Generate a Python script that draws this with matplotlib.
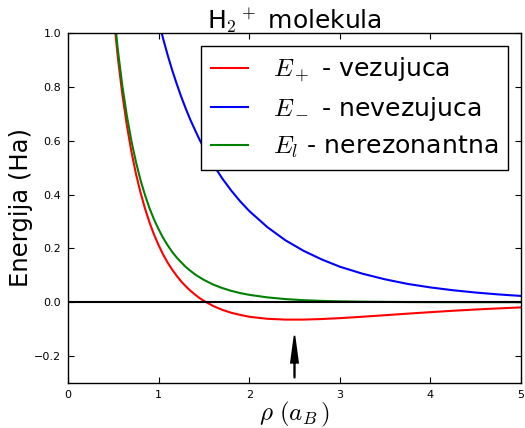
import matplotlib
matplotlib.use("Agg")
import matplotlib.pyplot as plt

# distance rho (a_B)
rho = [0.50, 0.55, 0.60, 0.65, 0.70, 0.75, 0.80, 0.85, 0.90, 0.95, 1.00, 1.05,
       1.10, 1.15, 1.20, 1.25, 1.30, 1.35, 1.40, 1.45, 1.50, 1.60, 1.70, 1.80,
       1.90, 2.00, 2.20, 2.40, 2.60, 2.80, 3.00, 3.25, 3.50, 3.75, 4.00, 4.25,
       4.50, 4.75, 5.00]
# E+ bonding
e_plus = [1.079, 0.909, 0.771, 0.656, 0.559, 0.477, 0.408, 0.348, 0.296, 0.251,
          0.212, 0.177, 0.147, 0.121, 0.098, 0.077, 0.059, 0.043, 0.029, 0.016,
          0.005, -0.0135, -0.028, -0.039, -0.047, -0.054, -0.0615, -0.0645,
          -0.0645, -0.0624, -0.0591, -0.0539, -0.0482, -0.0424, -0.0369, -0.0317,
          -0.027, -0.0229, -0.0192]
# E- antibonding
e_minus = [2.339, 2.116, 1.927, 1.765, 1.623, 1.498, 1.387, 1.288, 1.199, 1.118,
           1.045, 0.979, 0.918, 0.862, 0.811, 0.763, 0.719, 0.678, 0.641, 0.605,
           0.573, 0.513, 0.461, 0.4155, 0.375, 0.339, 0.279, 0.230, 0.191, 0.159,
           0.132, 0.106, 0.085, 0.068, 0.055, 0.0445, 0.036, 0.029, 0.0234]
# E_l non-resonant
e_l = [1.104, 0.938, 0.803, 0.692, 0.599, 0.521, 0.454, 0.398, 0.349, 0.307,
       0.271, 0.239, 0.2115, 0.187, 0.166, 0.148, 0.131, 0.117, 0.104, 0.093,
       0.083, 0.066, 0.053, 0.0425, 0.034, 0.0275, 0.018, 0.0117, 0.0076, 0.005,
       0.0033, 0.002, 0.0012, 0.0007, 0.0004, 0.0003, 0.0002, 0.0001, 0.0001]

labels = [r"$E_+$ - vezujuca", r"$E_-$ - nevezujuca", r"$E_l$ - nerezonantna"]
x_ticks = [0, 1, 2, 3, 4, 5]
y_ticks = [-0.2, 0.0, 0.2, 0.4, 0.6, 0.8, 1.0]
arrow_x = 2.5

plt.rcParams["mathtext.fontset"] = "cm"
plt.rcParams["font.family"] = "DejaVu Sans"

fig = plt.figure(figsize=(5.25, 4.28), dpi=100)
fig.patch.set_facecolor("white")
ax = fig.add_axes([68/525, 1-383/428, (521-68)/525, (383-33)/428])

ax.plot(rho, e_plus, color=(1, 0, 0), lw=1.5, label=labels[0])
ax.plot(rho, e_minus, color=(0, 0, 1), lw=1.5, label=labels[1])
ax.plot(rho, e_l, color=(0, 0.5, 0), lw=1.5, label=labels[2])
ax.axhline(0.0, color="black", lw=1.5)

ax.arrow(arrow_x, -0.28, 0, 0.155, head_width=0.08, head_length=0.1,
         length_includes_head=True, fc="black", ec="black", lw=1.2)

ax.set_xlim(0, 5)
ax.set_ylim(-0.3, 1.0)
ax.set_xticks(x_ticks)
ax.set_yticks(y_ticks)
ax.set_xticklabels([str(t) for t in x_ticks])
ax.set_yticklabels(["\u22120.2", "0.0", "0.2", "0.4", "0.6", "0.8", "1.0"])
ax.tick_params(direction="in", top=True, right=True, length=4, width=0.8,
               labelsize=8, pad=5)
for s in ax.spines.values():
    s.set_linewidth(1.0)

ax.set_title(r"H$_2$$^+$ molekula", fontsize=18, pad=3)
ax.set_xlabel(r"$\rho\ (a_B\,)$", fontsize=18, labelpad=0)
ax.set_ylabel("Energija (Ha)", fontsize=17.5, labelpad=1)

leg = ax.legend(loc="upper right", fontsize=18.2, handlelength=1.45,
                handletextpad=1.0, labelspacing=0.43, borderpad=0.39,
                borderaxespad=0.5, fancybox=False, framealpha=1)
leg.get_frame().set_edgecolor("black")
leg.get_frame().set_linewidth(1.0)

fig.savefig("out.png", dpi=100)
